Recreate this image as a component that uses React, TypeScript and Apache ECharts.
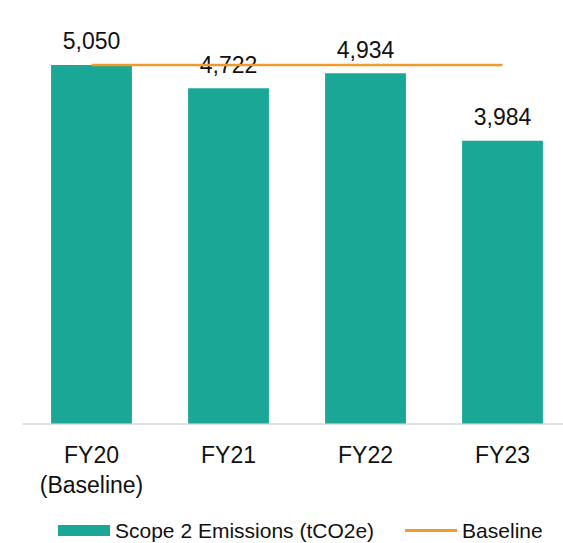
import React, { useEffect, useRef } from "react";
import * as echarts from "echarts";

// Scope 2 emissions by financial year, against the FY20 baseline
const categories = ["FY20\n(Baseline)", "FY21", "FY22", "FY23"];
const emissions = [5050, 4722, 4934, 3984];
const baseline = [5050, 5050, 5050, 5050];

const BAR_NAME = "Scope 2 Emissions (tCO2e)";
const LINE_NAME = "Baseline";

const TEAL = "#1ba796";
const ORANGE = "#ef9a2b";
const FONT = "'Liberation Sans', Arial, sans-serif";

export default function App() {
  const ref = useRef<HTMLDivElement>(null);

  useEffect(() => {
    if (!ref.current) return;
    const chart = echarts.init(ref.current, null, { renderer: "svg" });
    chart.setOption({
      animation: false,
      backgroundColor: "#ffffff",
      textStyle: { fontFamily: FONT },
      grid: { left: 23, right: 0, top: 33, bottom: 119.5, containLabel: false },
      legend: {
        left: 53,
        top: 515,
        itemWidth: 52,
        itemHeight: 11,
        itemGap: 31,
        textStyle: { fontFamily: FONT, fontSize: 21, color: "#111" },
        data: [
          { name: BAR_NAME, icon: "rect" },
          { name: LINE_NAME, icon: "path://M0,4 L52,4 L52,7 L0,7 Z" },
        ],
      },
      xAxis: {
        type: "category",
        data: categories,
        axisLine: { show: true, lineStyle: { color: "#d9d9d9", width: 1.5 } },
        axisTick: { show: false },
        axisLabel: {
          margin: 16,
          fontFamily: FONT,
          fontSize: 23,
          lineHeight: 30,
          color: "#111",
        },
      },
      yAxis: {
        type: "value",
        min: 0,
        max: 5500,
        show: false,
        splitLine: { show: false },
      },
      series: [
        {
          name: BAR_NAME,
          type: "bar",
          data: emissions,
          barWidth: "59%",
          itemStyle: { color: TEAL },
          label: {
            show: true,
            position: "top",
            distance: 12,
            fontFamily: FONT,
            fontSize: 23,
            color: "#111",
            formatter: (p: any) => Number(p.value).toLocaleString("en-US"),
          },
          z: 2,
        },
        {
          name: LINE_NAME,
          type: "line",
          data: baseline,
          symbol: "none",
          lineStyle: { color: ORANGE, width: 2.5 },
          itemStyle: { color: ORANGE },
          z: 3,
        },
      ],
    });
    return () => chart.dispose();
  }, []);

  // The plot area runs a little past the right edge, so the chart is wider
  // than its clipping frame.
  return (
    <div
      style={{
        position: "fixed",
        left: 0,
        top: 0,
        width: 563,
        height: 543,
        overflow: "hidden",
      }}
    >
      <div ref={ref} style={{ width: 571, height: 543 }} />
    </div>
  );
}
